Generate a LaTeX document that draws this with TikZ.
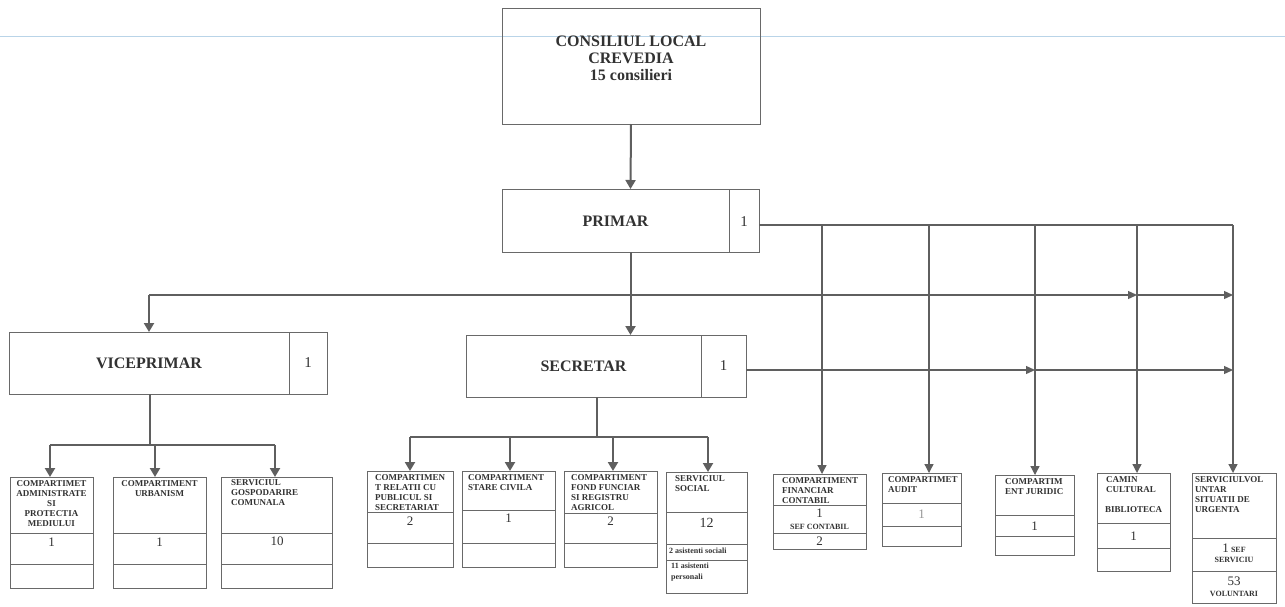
\documentclass[tikz,border=0pt]{standalone}
\usepackage{fontspec}
\setmainfont{Liberation Serif}
\usetikzlibrary{arrows.meta}
\definecolor{ink}{RGB}{50,50,50}
\definecolor{boxc}{RGB}{105,105,105}
\definecolor{arrc}{RGB}{95,95,95}
\definecolor{bluel}{RGB}{185,212,232}
\definecolor{faint}{RGB}{150,150,150}
\begin{document}
\begin{tikzpicture}[x=1pt,y=-1pt,
  box/.style={draw=boxc,line width=0.9pt,inner sep=0pt,outer sep=0pt,anchor=north west},
  divl/.style={draw=boxc,line width=0.9pt},
  big/.style={font=\bfseries\fontsize{16}{17}\selectfont,text=ink,align=center,inner sep=0pt},
  sidenum/.style={font=\fontsize{15}{15}\selectfont,text=ink,inner sep=0pt},
  ttl/.style={font=\bfseries\fontsize{9}{10}\selectfont,text=ink,inner sep=0pt},
  ttlc/.style={ttl,align=center,anchor=north},
  ttll/.style={ttl,align=left,anchor=north west},
  numf/.style={font=\fontsize{13}{13}\selectfont,text=ink,inner sep=0pt},
  smallt/.style={font=\bfseries\fontsize{8}{9}\selectfont,text=ink,inner sep=0pt},
  smalll/.style={smallt,align=left,anchor=north west,font=\bfseries\fontsize{8}{11}\selectfont},
  bigarr/.style={draw=arrc,line width=2pt,-{Triangle[width=10pt,length=9pt]}},
  botline/.style={draw=arrc,line width=2pt},
  botarr/.style={draw=arrc,line width=2pt,-{Triangle[width=10pt,length=9pt]}},
  thinl/.style={draw=arrc,line width=1.3pt},
  varr/.style={draw=arrc,line width=1.3pt,-{Triangle[width=9pt,length=9pt]}},
  harr/.style={draw=arrc,line width=1.3pt,-{Triangle[width=8pt,length=9pt]}}
]
\useasboundingbox (0,0) rectangle (1285,606);
\fill[white] (0,0) rectangle (1285,606);
\draw[bluel,line width=1pt] (0,36) -- (1285,36);

% ---------- top boxes ----------
\node[box,minimum width=258pt,minimum height=116pt] (cons) at (502,8) {};
\node[big] (consT) at (631,58) {CONSILIUL LOCAL\\CREVEDIA\\15 consilieri};

\node[box,minimum width=257pt,minimum height=63pt] (primar) at (502,189) {};
\draw[divl] (primar.north -| 729,0) -- (primar.south -| 729,0);
\node[big] (primarT) at (615.5,221) {PRIMAR};
\node[sidenum] (primarN) at (744,222) {1};

\node[box,minimum width=280pt,minimum height=62pt] (secretar) at (466,335) {};
\draw[divl] (secretar.north -| 701,0) -- (secretar.south -| 701,0);
\node[big] (secretarT) at (583.5,366) {SECRETAR};
\node[sidenum] (secretarN) at (723.5,366) {1};

\node[box,minimum width=318pt,minimum height=62pt] (vice) at (9,332) {};
\draw[divl] (vice.north -| 289,0) -- (vice.south -| 289,0);
\node[big] (viceT) at (149,363) {VICEPRIMAR};
\node[sidenum] (viceN) at (308,363) {1};

% ---------- bottom boxes: viceprimar group ----------
\node[box,minimum width=83pt,minimum height=111pt] (v1) at (10,477) {};
\draw[divl] (v1.west |- 0,533) -- (v1.east |- 0,533);
\draw[divl] (v1.west |- 0,564) -- (v1.east |- 0,564);
\node[ttlc] (v1T) at (51.5,480) {COMPARTIMET\\ADMINISTRATE\\SI\\PROTECTIA\\MEDIULUI};
\node[numf] (v1N) at (51.5,542) {1};

\node[box,minimum width=93pt,minimum height=111pt] (v2) at (113,477) {};
\draw[divl] (v2.west |- 0,533) -- (v2.east |- 0,533);
\draw[divl] (v2.west |- 0,564) -- (v2.east |- 0,564);
\node[ttlc] (v2T) at (159.5,480) {COMPARTIMENT\\URBANISM};
\node[numf] (v2N) at (159.5,542) {1};

\node[box,minimum width=111pt,minimum height=111pt] (v3) at (221,477) {};
\draw[divl] (v3.west |- 0,533) -- (v3.east |- 0,533);
\draw[divl] (v3.west |- 0,564) -- (v3.east |- 0,564);
\node[ttll] (v3T) at (231,479) {SERVICIUL\\GOSPODARIRE\\COMUNALA};
\node[numf] (v3N) at (277,541) {10};

% ---------- bottom boxes: secretar group ----------
\node[box,minimum width=86pt,minimum height=96pt] (s1) at (367,471) {};
\draw[divl] (s1.west |- 0,512) -- (s1.east |- 0,512);
\draw[divl] (s1.west |- 0,543) -- (s1.east |- 0,543);
\node[ttll] (s1T) at (375,474) {COMPARTIMEN\\T RELATII CU\\PUBLICUL SI\\SECRETARIAT};
\node[numf] (s1N) at (410,521) {2};

\node[box,minimum width=93pt,minimum height=96pt] (s2) at (462,471) {};
\draw[divl] (s2.west |- 0,510) -- (s2.east |- 0,510);
\draw[divl] (s2.west |- 0,543) -- (s2.east |- 0,543);
\node[ttll] (s2T) at (468,474) {COMPARTIMENT\\STARE CIVILA};
\node[numf] (s2N) at (508.5,518) {1};

\node[box,minimum width=93pt,minimum height=96pt] (s3) at (564,471) {};
\draw[divl] (s3.west |- 0,513) -- (s3.east |- 0,513);
\draw[divl] (s3.west |- 0,543) -- (s3.east |- 0,543);
\node[ttll] (s3T) at (571,474) {COMPARTIMENT\\FOND FUNCIAR\\SI REGISTRU\\AGRICOL};
\node[numf] (s3N) at (610.5,521) {2};

\node[box,minimum width=81pt,minimum height=121pt] (s4) at (666,472) {};
\draw[divl] (s4.west |- 0,512) -- (s4.east |- 0,512);
\draw[divl] (s4.west |- 0,544) -- (s4.east |- 0,544);
\draw[divl] (s4.west |- 0,560) -- (s4.east |- 0,560);
\node[ttll] (s4T) at (675,475) {SERVICIUL\\SOCIAL};
\node[numf,font=\fontsize{14}{14}\selectfont] (s4N) at (706.5,523) {12};
\node[smalll] (s4A) at (669,548) {2 asistenti sociali};
\node[smalll] (s4B) at (671,563) {11 asistenti\\personali};

% ---------- bottom boxes: right group ----------
\node[box,minimum width=93pt,minimum height=75pt] (f) at (773,474) {};
\draw[divl] (f.west |- 0,505) -- (f.east |- 0,505);
\draw[divl] (f.west |- 0,533) -- (f.east |- 0,533);
\node[ttll] (fT) at (782,477) {COMPARTIMENT\\FINANCIAR\\CONTABIL};
\node[numf] (fN) at (819.5,513) {1};
\node[smallt] (fS) at (819.5,527) {SEF CONTABIL};
\node[numf] (fN2) at (819.5,541.5) {2};

\node[box,minimum width=79pt,minimum height=73pt] (a) at (882,473) {};
\draw[divl] (a.west |- 0,503) -- (a.east |- 0,503);
\draw[divl] (a.west |- 0,526) -- (a.east |- 0,526);
\node[ttll] (aT) at (888,476) {COMPARTIMET\\AUDIT};
\node[numf,text=faint] (aN) at (921.5,514) {1};

\node[box,minimum width=79pt,minimum height=80pt] (j) at (995,475) {};
\draw[divl] (j.west |- 0,515) -- (j.east |- 0,515);
\draw[divl] (j.west |- 0,536) -- (j.east |- 0,536);
\node[ttll] (jT) at (1005,478) {COMPARTIM\\ENT JURIDIC};
\node[numf] (jN) at (1034.5,526) {1};

\node[box,minimum width=73pt,minimum height=98pt] (c) at (1097,473) {};
\draw[divl] (c.west |- 0,523) -- (c.east |- 0,523);
\draw[divl] (c.west |- 0,548) -- (c.east |- 0,548);
\node[ttll] (cT) at (1106,476) {CAMIN\\CULTURAL};
\node[ttlc] (cB) at (1133.5,506) {BIBLIOTECA};
\node[numf] (cN) at (1133.5,536) {1};

\node[box,minimum width=84pt,minimum height=130pt] (vo) at (1192,473) {};
\draw[divl] (vo.west |- 0,538) -- (vo.east |- 0,538);
\draw[divl] (vo.west |- 0,571) -- (vo.east |- 0,571);
\node[ttll] (voT) at (1195,476) {SERVICIULVOL\\UNTAR\\SITUATII DE\\URGENTA};
\node[numf] (voN) at (1234,548) {1\,{\bfseries\fontsize{8}{9}\selectfont SEF}};
\node[smallt] (voS) at (1234,559.5) {SERVICIU};
\node[numf] (voN2) at (1234,581.5) {53};
\node[smallt] (voV) at (1234,594) {VOLUNTARI};

% ---------- connectors ----------
\draw[bigarr] (cons.south) -- (primar.north);
\draw[bigarr] (primar.south) -- (primar.south |- secretar.north);

% viceprimar line with arrows to camin and voluntar
\coordinate (vc) at (149,295);
\coordinate (camL) at (1137,295);
\coordinate (volL) at (1233,295);
\draw[bigarr] (vc) -- (vc |- vice.north);
\draw[harr] (vc) -- (camL);
\draw[harr] (camL) -- (volL);

% primar right line with verticals
\coordinate (pR) at (759,225);
\coordinate (t1) at (822,225);
\coordinate (t2) at (929,225);
\coordinate (t3) at (1035,225);
\coordinate (t4) at (1137,225);
\coordinate (t5) at (1233,225);
\draw[thinl] (pR) -- (t5);
\draw[varr] (t1) -- (t1 |- f.north);
\draw[varr] (t2) -- (t2 |- a.north);
\draw[varr] (t3) -- (t3 |- j.north);
\draw[varr] (t4) -- (t4 |- c.north);
\draw[varr] (t5) -- (t5 |- vo.north);

% secretar right line
\coordinate (sR) at (746,370);
\coordinate (jL) at (1035,370);
\coordinate (vL) at (1233,370);
\draw[harr] (sR) -- (jL);
\draw[harr] (jL) -- (vL);

% viceprimar subordinates
\coordinate (vb1) at (150,394);
\coordinate (vb2) at (150,445);
\coordinate (vh1) at (50,445);
\coordinate (vh2) at (155,445);
\coordinate (vh3) at (275,445);
\draw[botline] (vb1) -- (vb2);
\draw[botline] (vh1) -- (vh3);
\draw[botarr] (vh1) -- (vh1 |- v1.north);
\draw[botarr] (vh2) -- (vh2 |- v2.north);
\draw[botarr] (vh3) -- (vh3 |- v3.north);

% secretar subordinates
\coordinate (sb1) at (597,397);
\coordinate (sb2) at (597,437);
\coordinate (sh1) at (410,437);
\coordinate (sh2) at (510,437);
\coordinate (sh3) at (613,437);
\coordinate (sh4) at (708,437);
\draw[botline] (sb1) -- (sb2);
\draw[botline] (sh1) -- (sh4);
\draw[botarr] (sh1) -- (sh1 |- s1.north);
\draw[botarr] (sh2) -- (sh2 |- s2.north);
\draw[botarr] (sh3) -- (sh3 |- s3.north);
\draw[botarr] (sh4) -- (sh4 |- s4.north);
\end{tikzpicture}
\end{document}
